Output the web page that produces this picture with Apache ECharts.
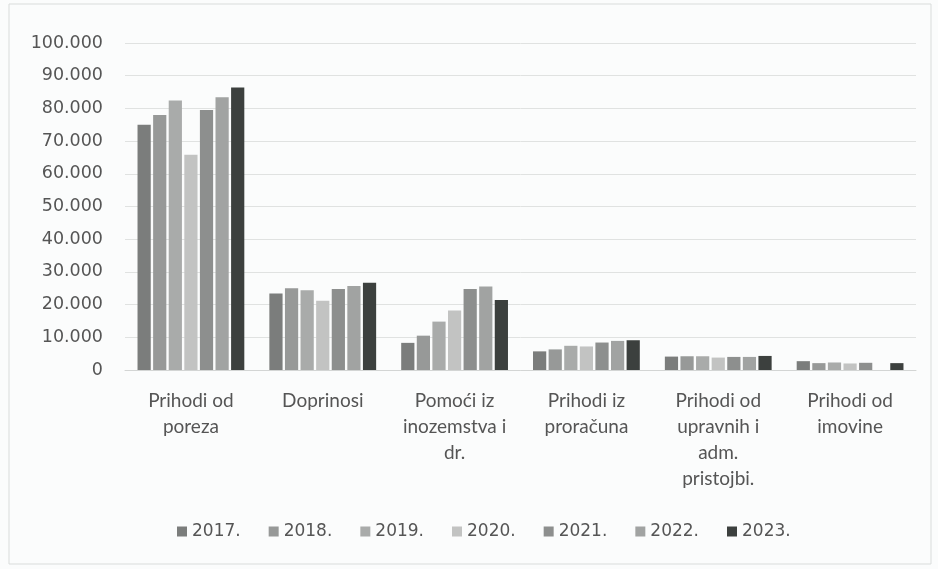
<!DOCTYPE html>
<html>
<head>
<meta charset="utf-8">
<script src="https://cdn.jsdelivr.net/npm/echarts@6/dist/echarts.min.js"></script>
<style>
  html, body { margin: 0; padding: 0; background: #fbfcfc; }
  #chart { width: 938px; height: 569px; }
</style>
</head>
<body>
<div id="chart"></div>
<script>
const categories = [
  'Prihodi od\nporeza',
  'Doprinosi',
  'Pomoći iz\ninozemstva i\ndr.',
  'Prihodi iz\nproračuna',
  'Prihodi od\nupravnih i\nadm.\npristojbi.',
  'Prihodi od\nimovine'
];
const years = ['2017.', '2018.', '2019.', '2020.', '2021.', '2022.', '2023.'];
const v2017 = [75000, 23400, 8300, 5700, 4100, 2700];
const v2018 = [78000, 25000, 10500, 6300, 4200, 2100];
const v2019 = [82400, 24400, 14800, 7400, 4200, 2300];
const v2020 = [65800, 21200, 18200, 7200, 3800, 2000];
const v2021 = [79500, 24800, 24800, 8400, 4000, 2200];
const v2022 = [83400, 25700, 25500, 8900, 4000, null];
const v2023 = [86400, 26700, 21400, 9100, 4300, 2100];
const yearValues = [v2017, v2018, v2019, v2020, v2021, v2022, v2023];
const colors = ['#7b7d7c', '#979998', '#a9abaa', '#c2c3c2', '#8d8f8e', '#a1a3a2', '#3c403e'];

const chart = echarts.init(document.getElementById('chart'));

const fmt = v => String(v).replace(/\B(?=(\d{3})+(?!\d))/g, '.');

chart.setOption({
  backgroundColor: '#fbfcfc',
  animation: false,
  color: colors,
  textStyle: { fontFamily: 'DejaVu Sans' },
  graphic: [{
    type: 'rect',
    shape: { x: 9, y: 4, width: 922, height: 560 },
    style: { fill: 'none', stroke: '#d9dcdb', lineWidth: 1 },
    silent: true
  }],
  legend: {
    bottom: 24,
    left: 172,
    itemWidth: 10,
    itemHeight: 10,
    itemGap: 28,
    icon: 'rect',
    textStyle: { fontSize: 17, color: '#555', fontFamily: 'DejaVu Sans' },
    data: years
  },
  grid: { left: 125, right: 22, top: 43, bottom: 199 },
  xAxis: {
    type: 'category',
    data: categories,
    axisLine: { lineStyle: { color: '#d3d5d4' } },
    axisTick: { show: false },
    axisLabel: {
      interval: 0,
      margin: 18,
      fontSize: 19,
      lineHeight: 26,
      color: '#555',
      fontFamily: 'Lato'
    }
  },
  yAxis: {
    type: 'value',
    min: 0,
    max: 100000,
    interval: 10000,
    axisLine: { show: false },
    axisTick: { show: false },
    splitLine: { lineStyle: { color: '#e0e2e1' } },
    axisLabel: {
      margin: 22,
      fontSize: 17.5,
      color: '#555',
      formatter: v => fmt(v)
    }
  },
  series: years.map((y, i) => ({
    name: y,
    type: 'bar',
    data: yearValues[i],
    barGap: '18%',
    barCategoryGap: '19%'
  }))
});
</script>
</body>
</html>
